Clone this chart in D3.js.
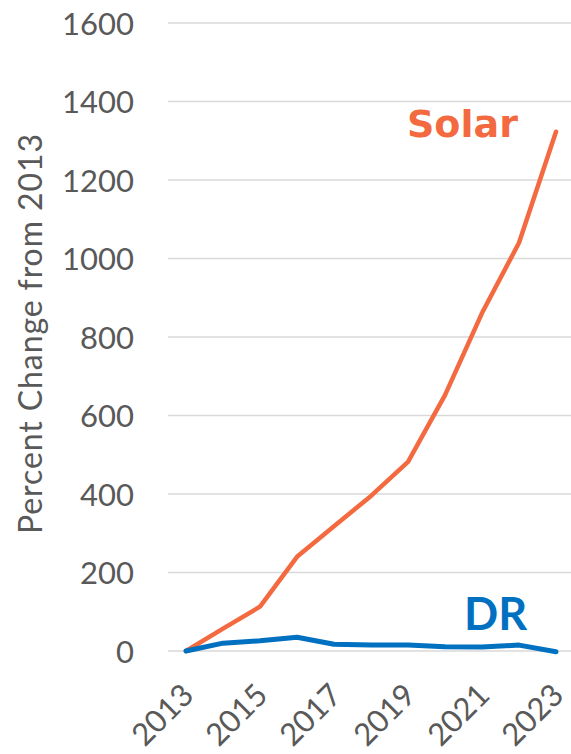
<!DOCTYPE html>
<html>
<head>
<meta charset="utf-8">
<script src="https://cdn.jsdelivr.net/npm/d3@7"></script>
<style>
  html, body { margin: 0; padding: 0; background: #fff; }
  svg { display: block; }
</style>
</head>
<body>
<svg id="chart" width="571" height="754"></svg>
<script>
const years = [2013, 2014, 2015, 2016, 2017, 2018, 2019, 2020, 2021, 2022, 2023];
const solarValues = [0, 57, 113, 240, 318, 395, 482, 652, 861, 1040, 1323];
const drValues = [0, 20, 26, 35, 17, 15, 15, 11, 10, 15, -2];
const yTicks = [0, 200, 400, 600, 800, 1000, 1200, 1400, 1600];
const xTickLabels = [2013, 2015, 2017, 2019, 2021, 2023];
const seriesNames = ["Solar", "DR"];

const svg = d3.select("#chart");
const textColor = "#595959";

const x = d3.scalePoint().domain(years).range([186, 556]);
const y = d3.scaleLinear().domain([0, 1600]).range([651, 23]);

// gridlines
svg.append("g")
  .selectAll("line")
  .data(yTicks)
  .join("line")
  .attr("x1", 168).attr("x2", 571)
  .attr("y1", d => y(d)).attr("y2", d => y(d))
  .attr("stroke", "#D9D9D9")
  .attr("stroke-width", 1.5);

// y axis
const yAxis = d3.axisLeft(y).tickValues(yTicks).tickFormat(d3.format("d")).tickSize(0).tickPadding(0);
const gy = svg.append("g").attr("transform", "translate(134,0)").call(yAxis);
gy.select(".domain").remove();
gy.selectAll("text")
  .attr("fill", textColor)
  .attr("font-family", "Lato, 'Open Sans', sans-serif")
  .attr("font-size", 31)
  .attr("dy", "0.36em");

// x axis
const xAxis = d3.axisBottom(x).tickValues(xTickLabels).tickFormat(d3.format("d")).tickSize(0).tickPadding(0);
const gx = svg.append("g").attr("transform", "translate(0,651)").call(xAxis);
gx.select(".domain").remove();
gx.selectAll("text")
  .attr("fill", textColor)
  .attr("font-family", "Lato, 'Open Sans', sans-serif")
  .attr("font-size", 31)
  .attr("text-anchor", "end")
  .attr("dy", 0)
  .attr("y", 0)
  .attr("transform", "translate(9,46) rotate(-45)");

// y label
svg.append("text")
  .attr("transform", "translate(42,334) rotate(-90)")
  .attr("text-anchor", "middle")
  .attr("fill", textColor)
  .attr("font-family", "Lato, 'Open Sans', sans-serif")
  .attr("font-size", 32)
  .attr("textLength", 400)
  .attr("lengthAdjust", "spacing")
  .text("Percent Change from 2013");

// lines
const line = d3.line().x((d, i) => x(years[i])).y(d => y(d));
svg.append("path")
  .datum(solarValues)
  .attr("d", line)
  .attr("fill", "none")
  .attr("stroke", "#F36A40")
  .attr("stroke-width", 4.5)
  .attr("stroke-linejoin", "round")
  .attr("stroke-linecap", "round");
svg.append("path")
  .datum(drValues)
  .attr("d", line)
  .attr("fill", "none")
  .attr("stroke", "#0070C0")
  .attr("stroke-width", 5)
  .attr("stroke-linejoin", "round")
  .attr("stroke-linecap", "round");

// series labels
svg.append("text")
  .attr("x", 407).attr("y", 137)
  .attr("fill", "#F36A40")
  .attr("font-family", "'DejaVu Sans', sans-serif")
  .attr("font-weight", "bold")
  .attr("font-size", 38)
  .text(seriesNames[0]);
svg.append("text")
  .attr("x", 464).attr("y", 630)
  .attr("fill", "#0070C0")
  .attr("font-family", "Lato, sans-serif")
  .attr("font-weight", "bold")
  .attr("font-size", 45)
  .text(seriesNames[1]);
</script>
</body>
</html>
